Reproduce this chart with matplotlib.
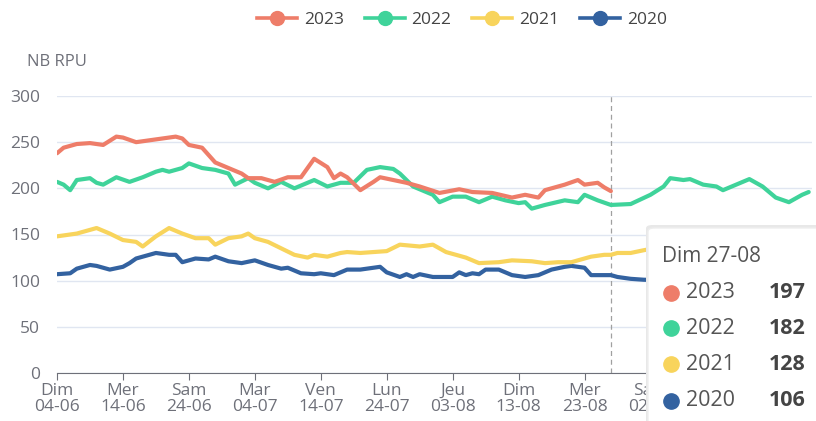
import numpy as np
import matplotlib
matplotlib.use("Agg")
import matplotlib.pyplot as plt
from matplotlib.patches import FancyBboxPatch
from matplotlib.lines import Line2D

plt.rcParams['font.family'] = ['Open Sans', 'DejaVu Sans']

# jours depuis le dim 04-06 -> valeurs
days_2023 = [0, 1, 3, 5, 7, 9, 10, 12, 14, 16, 18, 19, 20, 22, 24, 26, 28, 29, 31, 33, 35, 37, 38, 39,
             41, 42, 43, 44, 46, 48, 49, 51, 53, 55, 58, 61, 63, 66, 69, 71, 73, 74, 77, 79, 80, 82, 83, 84]
vals_2023 = [238, 244, 248, 249, 247, 256, 255, 250, 252, 254, 256, 254, 247, 244, 228, 222, 216, 211, 211,
             207, 212, 212, 222, 232, 223, 211, 216, 212, 198, 207, 212, 209, 206, 202, 195, 199, 196, 195,
             190, 193, 190, 198, 204, 209, 204, 206, 201, 197]

days_2022 = [0, 1, 2, 3, 5, 6, 7, 9, 11, 13, 15, 16, 17, 19, 20, 22, 24, 26, 27, 29, 30, 32, 34, 36, 39,
             41, 43, 45, 47, 49, 51, 52, 54, 56, 57, 58, 60, 62, 64, 66, 68, 70, 71, 72, 74, 77, 79, 80,
             82, 84, 87, 90, 92, 93, 95, 96, 98, 100, 101, 103, 105, 107, 109, 111, 113, 114]
vals_2022 = [207, 204, 198, 209, 211, 206, 204, 212, 207, 212, 218, 220, 218, 222, 227, 222, 220, 216, 204,
             211, 206, 200, 207, 200, 209, 202, 206, 206, 220, 223, 221, 216, 202, 196, 193, 185, 191, 191,
             185, 191, 187, 184, 185, 178, 182, 187, 185, 193, 187, 182, 183, 193, 202, 211, 209, 210, 204,
             202, 198, 204, 210, 202, 190, 185, 193, 196]

days_2021 = [0, 3, 5, 6, 8, 10, 12, 13, 15, 17, 19, 21, 23, 24, 26, 28, 29, 30, 32, 34, 36, 38, 39, 41,
             43, 44, 46, 48, 50, 52, 55, 57, 59, 62, 64, 67, 69, 72, 74, 76, 78, 81, 83, 84, 85, 87, 89,
             93, 97, 100, 103, 107, 111, 114]
vals_2021 = [148, 151, 155, 157, 151, 144, 142, 137, 148, 157, 151, 146, 146, 139, 146, 148, 151, 146, 142,
             135, 128, 125, 128, 126, 130, 131, 130, 131, 132, 139, 137, 139, 131, 125, 119, 120, 122, 121,
             119, 120, 120, 126, 128, 128, 130, 130, 133, 138, 148, 157, 150, 147, 150, 152]

days_2020 = [0, 2, 3, 5, 6, 8, 10, 11, 12, 14, 15, 17, 18, 19, 21, 23, 24, 26, 28, 30, 32, 34, 35, 37,
             39, 40, 42, 44, 46, 49, 50, 52, 53, 54, 55, 57, 60, 61, 62, 63, 64, 65, 67, 69, 71, 73, 75,
             77, 78, 80, 81, 84, 85, 87, 89, 95, 100, 105, 110, 114]
vals_2020 = [107, 108, 113, 117, 116, 112, 115, 119, 124, 128, 130, 128, 128, 120, 124, 123, 126, 121, 119,
             122, 117, 113, 114, 108, 107, 108, 106, 112, 112, 115, 109, 104, 107, 104, 107, 104, 104, 109,
             106, 108, 107, 112, 112, 106, 104, 106, 112, 115, 116, 114, 106, 106, 104, 102, 101, 100, 98,
             99, 97, 98]

tick_days = [0, 10, 20, 30, 40, 50, 60, 70, 80, 90, 100, 110]
# les deux derniers libellés sont cachés par l'infobulle
tick_labels = ["Dim\n04-06", "Mer\n14-06", "Sam\n24-06", "Mar\n04-07", "Ven\n14-07", "Lun\n24-07",
               "Jeu\n03-08", "Dim\n13-08", "Mer\n23-08", "Sam\n02-09", "", ""]

hover_day = 84
hover_label = "Dim 27-08"

series = [
    ("2023", days_2023, vals_2023, "#EE7D69"),
    ("2022", days_2022, vals_2022, "#3FD39A"),
    ("2021", days_2021, vals_2021, "#F8D45C"),
    ("2020", days_2020, vals_2020, "#3362A0"),
]

W, H = 816, 421
fig = plt.figure(figsize=(W / 100, H / 100), dpi=100)
ax = fig.add_axes([57 / W, 48 / H, 755 / W, 277 / H])

grey = "#6E7079"
for name, d, v, c in reversed(series):
    ax.plot(d, v, color=c, lw=3.0, solid_joinstyle='round', solid_capstyle='round', zorder=3)

ax.set_xlim(0, 114.5)
ax.set_ylim(0, 300)
ax.set_yticks(range(0, 301, 50))
ax.grid(axis='y', color='#E0E6F1', lw=1)
ax.set_axisbelow(True)
for s in ['left', 'right', 'top']:
    ax.spines[s].set_visible(False)
ax.spines['bottom'].set_color(grey)
ax.spines['bottom'].set_zorder(4)
ax.set_xticks(tick_days)
ax.set_xticklabels(tick_labels, linespacing=1.0)
ax.tick_params(axis='x', colors=grey, labelsize=12.5, length=5, pad=2)
ax.tick_params(axis='y', colors=grey, labelsize=12.5, length=0, pad=12)
ax.text(0, 1.123, "NB RPU", transform=ax.transAxes, ha='center', va='center', fontsize=12, color=grey)

ax.axvline(hover_day, color='#A0A0A0', lw=0.9, ls=(0, (4, 3)), zorder=2)

# légende
handles = [Line2D([], [], color=c, lw=2.6, marker='o', ms=10) for _, _, _, c in series]
fig.legend(handles, [s[0] for s in series], loc='center', bbox_to_anchor=(462 / W, 1 - 20 / H),
           ncol=4, frameon=False, fontsize=12.5, handlelength=2.3, handletextpad=0.4,
           columnspacing=1.2, labelcolor='#444444')

# infobulle
tx0, ty0 = 648 / W, 228 / H
shadow = FancyBboxPatch((tx0 - 2 / W, -0.1), 0.3, 1 - ty0 + 0.1 + 3 / H, transform=fig.transFigure,
                        boxstyle="round,pad=0,rounding_size=0.008", fc='#E8E8E8', ec='none', zorder=9)
box = FancyBboxPatch((tx0, -0.1), 0.3, 1 - ty0 + 0.1, transform=fig.transFigure,
                     boxstyle="round,pad=0,rounding_size=0.008", fc='white', ec='#EEEEEE', lw=1, zorder=10)
fig.add_artist(shadow)
fig.add_artist(box)
fig.text(662 / W, 1 - 256 / H, hover_label, fontsize=15, color='#555555', va='center', zorder=11)
row_y = [293, 328, 364, 401]
for (name, d, v, c), ry in zip(series, row_y):
    val = int(round(np.interp(hover_day, d, v)))
    yy = 1 - ry / H
    fig.add_artist(Line2D([671 / W], [yy], transform=fig.transFigure, marker='o', ms=11,
                          color=c, lw=0, zorder=11))
    fig.text(686 / W, yy, name, fontsize=15.5, color='#555555', va='center', zorder=11)
    fig.text(806 / W, yy, str(val), fontsize=15.5, color='#444444', va='center', ha='right',
             fontweight='bold', zorder=11)

fig.savefig("out.png", dpi=100)
